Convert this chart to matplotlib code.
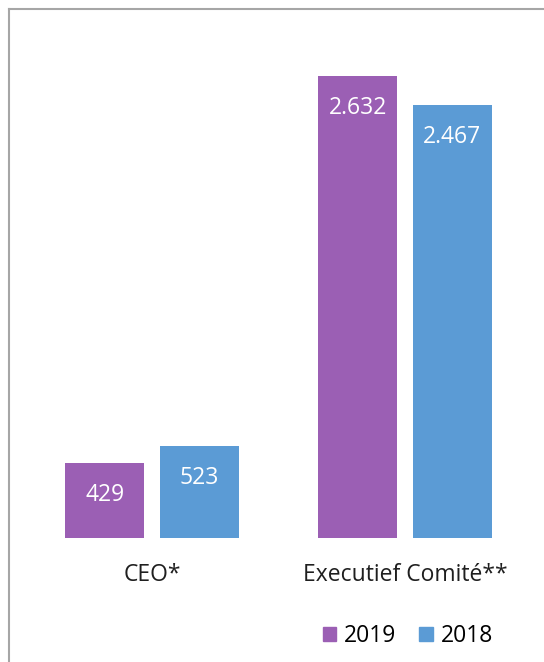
import numpy as np
import matplotlib
matplotlib.use("Agg")
from matplotlib import pyplot as plt
from matplotlib.lines import Line2D

categories = ["CEO*", "Executief Comité**"]
years = ["2019", "2018"]
values_2019 = [429, 2632]
values_2018 = [523, 2467]
labels_2019 = ["429", "2.632"]
labels_2018 = ["523", "2.467"]
colors = ["#9b5fb4", "#5b9bd5"]

plt.rcParams['font.family'] = ['Open Sans', 'DejaVu Sans']

fig = plt.figure(figsize=(5.44, 6.62), dpi=100)
W, H = 544, 662
# axes: x=-0.5 at px 25.5, x=1.5 at px 531.5; y=0 at px 538, y=3000 at px ~11.4
ax = fig.add_axes([25.5 / W, 1 - 538 / H, 506 / W, (538 - 11.4) / H])

x = np.arange(len(categories))
w = 0.312
off = 0.187
for vals, labs, col, sh in [(values_2019, labels_2019, colors[0], -off),
                            (values_2018, labels_2018, colors[1], off)]:
    bars = ax.bar(x + sh, vals, w, color=col, edgecolor="none")
    for b, lab in zip(bars, labs):
        ax.annotate(lab, (b.get_x() + b.get_width() / 2, b.get_height()),
                    xytext=(0, -27.5), textcoords="offset points",
                    ha="center", va="baseline", color="white", fontsize=16.5)

ax.set_xlim(-0.5, 1.5)
ax.set_ylim(0, 3000)
ax.set_xticks(x)
ax.set_xticklabels(categories, fontsize=16.5, color="#1f1f1f")
ax.tick_params(axis="x", length=0, pad=18)
ax.set_yticks([])
for s in ax.spines.values():
    s.set_visible(False)

# legend
handles = [plt.Rectangle((0, 0), 1, 1, color=c) for c in colors]
fig.legend(handles, years, loc="center", bbox_to_anchor=(408 / W, 1 - 636 / H),
           ncol=2, frameon=False, fontsize=16.5, handlelength=0.6, handleheight=0.6,
           handletextpad=0.35, columnspacing=1.0)

# outer frame
fig.add_artist(Line2D([9 / W, 9 / W], [0, 1 - 9 / H], color="#a6a6a6", lw=1.5,
                      transform=fig.transFigure))
fig.add_artist(Line2D([9 / W, 1], [1 - 9 / H, 1 - 9 / H], color="#a6a6a6", lw=1.5,
                      transform=fig.transFigure))

fig.savefig("out.png", dpi=100)
